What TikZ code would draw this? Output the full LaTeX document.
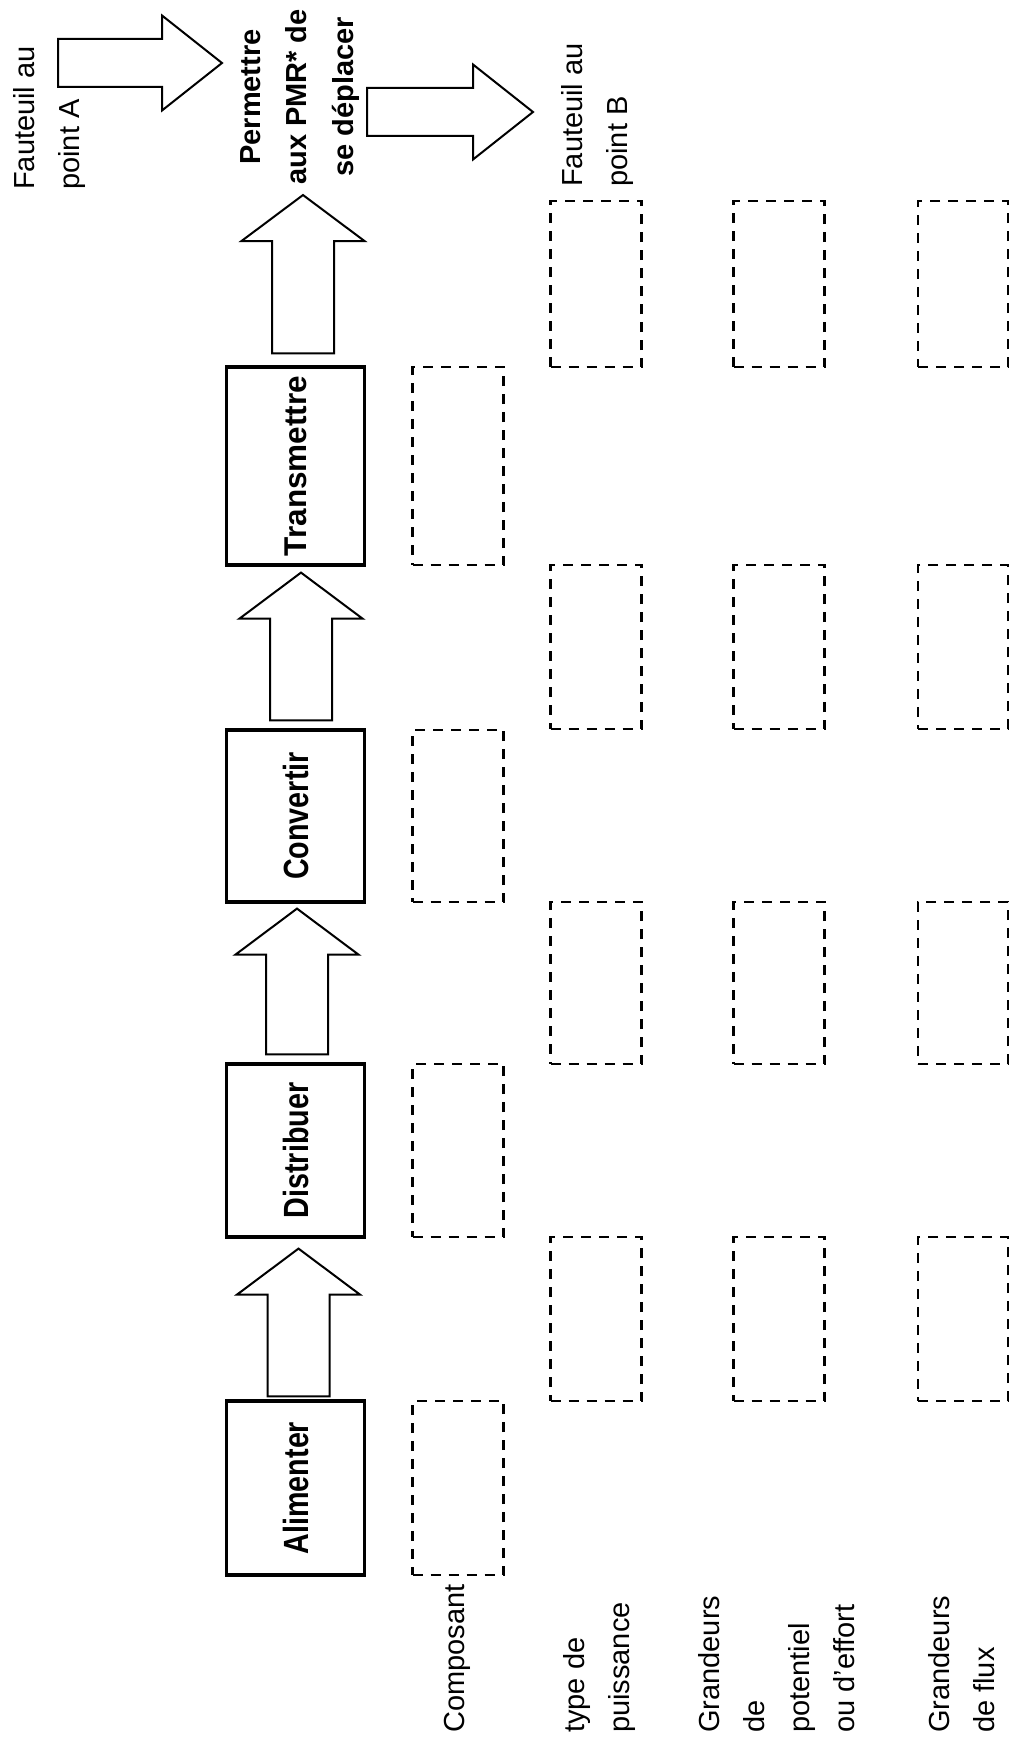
\documentclass[tikz,border=0pt]{standalone}
\usepackage{fontspec}
\usepackage{graphicx}
\setmainfont{Liberation Sans}
\newfontfamily\narrowfont{Liberation Sans}[FakeStretch=0.82]
\usetikzlibrary{calc}
\tikzset{
  fbox/.style={draw, line width=3.2pt, minimum width=138pt, inner sep=0pt,
    font=\narrowfont\bfseries\fontsize{35}{40}\selectfont},
  dbox/.style={draw, line width=2.2pt, dash pattern=on 10pt off 8pt,
    minimum width=91pt, inner sep=0pt},
  blk/.style={draw, line width=2pt, fill=white, line join=miter},
  txt/.style={rotate=90, inner sep=0pt, anchor=north west, align=left,
    font=\fontsize{29}{45}\selectfont},
}
\newcommand{\blockarrow}[5]{%
  \coordinate (bhB) at ($(#2)!#5!(#1)$);
  \draw[blk] ($(#1)!#3!90:(#2)$) -- ($(bhB)!#3!90:(#2)$) -- ($(bhB)!#4!90:(#2)$)
    -- (#2) -- ($(bhB)!#4!-90:(#2)$) -- ($(bhB)!#3!-90:(#2)$)
    -- ($(#1)!#3!-90:(#2)$) -- cycle;}
\begin{document}
\begin{tikzpicture}[x=1pt,y=-1pt]
\useasboundingbox (0,0) rectangle (1013,1742);
\fill[white] (0,0) rectangle (1013,1742);

% function boxes
\node[fbox, minimum height=174pt] (alim) at (295.5,1488) {\rotatebox{90}{Alimenter}};
\node[fbox, minimum height=173pt] (dist) at (295.5,1150.5) {\rotatebox{90}{Distribuer}};
\node[fbox, minimum height=172pt] (conv) at (295.5,816) {\rotatebox{90}{Convertir}};
\node[fbox, minimum height=198pt, font=\bfseries\fontsize{31.5}{36}\selectfont] (trans) at (295.5,466) {\rotatebox{90}{Transmettre}};

% component boxes
\node[dbox, minimum height=174pt] (comp1) at (458,1488) {};
\node[dbox, minimum height=173pt] (comp2) at (458,1150.5) {};
\node[dbox, minimum height=172pt] (comp3) at (458,816) {};
\node[dbox, minimum height=198pt] (comp4) at (458,466) {};

% grid of dashed boxes
\foreach \r/\yc/\h in {1/284/166, 2/647/164, 3/983/162, 4/1319/164} {
  \node[dbox, minimum height=\h pt] (puis\r) at (596,\yc) {};
  \node[dbox, minimum height=\h pt] (pot\r) at (779,\yc) {};
  \node[dbox, minimum height=\h pt, minimum width=90pt] (flux\r) at (963,\yc) {};
}

% texts
\node[txt] (fA) at (13,190) {Fauteuil au\\point A};
\node[txt] (fB) at (561,187) {Fauteuil au\\point B};
\node[rotate=90, inner sep=0pt, anchor=north, align=center,
  font=\bfseries\fontsize{29}{46.5}\selectfont] (perm) at (240,97)
  {Permettre\\aux PMR* de\\se déplacer};
\node[txt] (lcomp) at (444,1733) {Composant};
\node[txt] (lpuis) at (563,1733) {type de\\puissance};
\node[txt] (lpot) at (698,1733) {Grandeurs\\de\\potentiel\\ou d'effort};
\node[txt] (lflux) at (928,1733) {Grandeurs\\de flux};

% horizontal block arrows
\coordinate (aAs) at (58,63);
\coordinate (aAe) at (222,63);
\blockarrow{aAs}{aAe}{24pt}{47.5pt}{60pt}
\coordinate (aBs) at (367,112);
\coordinate (aBe) at (533,112);
\blockarrow{aBs}{aBe}{24pt}{47.5pt}{60pt}

% vertical block arrows
\coordinate (v1s) at ($(alim.north)+(3,-3)$);
\coordinate (v1e) at ($(dist.south)+(3,10)$);
\blockarrow{v1s}{v1e}{31pt}{61.5pt}{46pt}
\coordinate (v2s) at ($(dist.north)+(1.5,-8)$);
\coordinate (v2e) at ($(conv.south)+(1.5,5)$);
\blockarrow{v2s}{v2e}{31pt}{61.5pt}{46pt}
\coordinate (v3s) at ($(conv.north)+(5.5,-8)$);
\coordinate (v3e) at ($(trans.south)+(5.5,6)$);
\blockarrow{v3s}{v3e}{31pt}{61.5pt}{46pt}
\coordinate (v4s) at ($(trans.north)+(7.5,-12)$);
\coordinate (v4e) at ($(trans.north |- perm.west)+(7.5,10)$);
\blockarrow{v4s}{v4e}{31pt}{61.5pt}{46pt}
\end{tikzpicture}
\end{document}
